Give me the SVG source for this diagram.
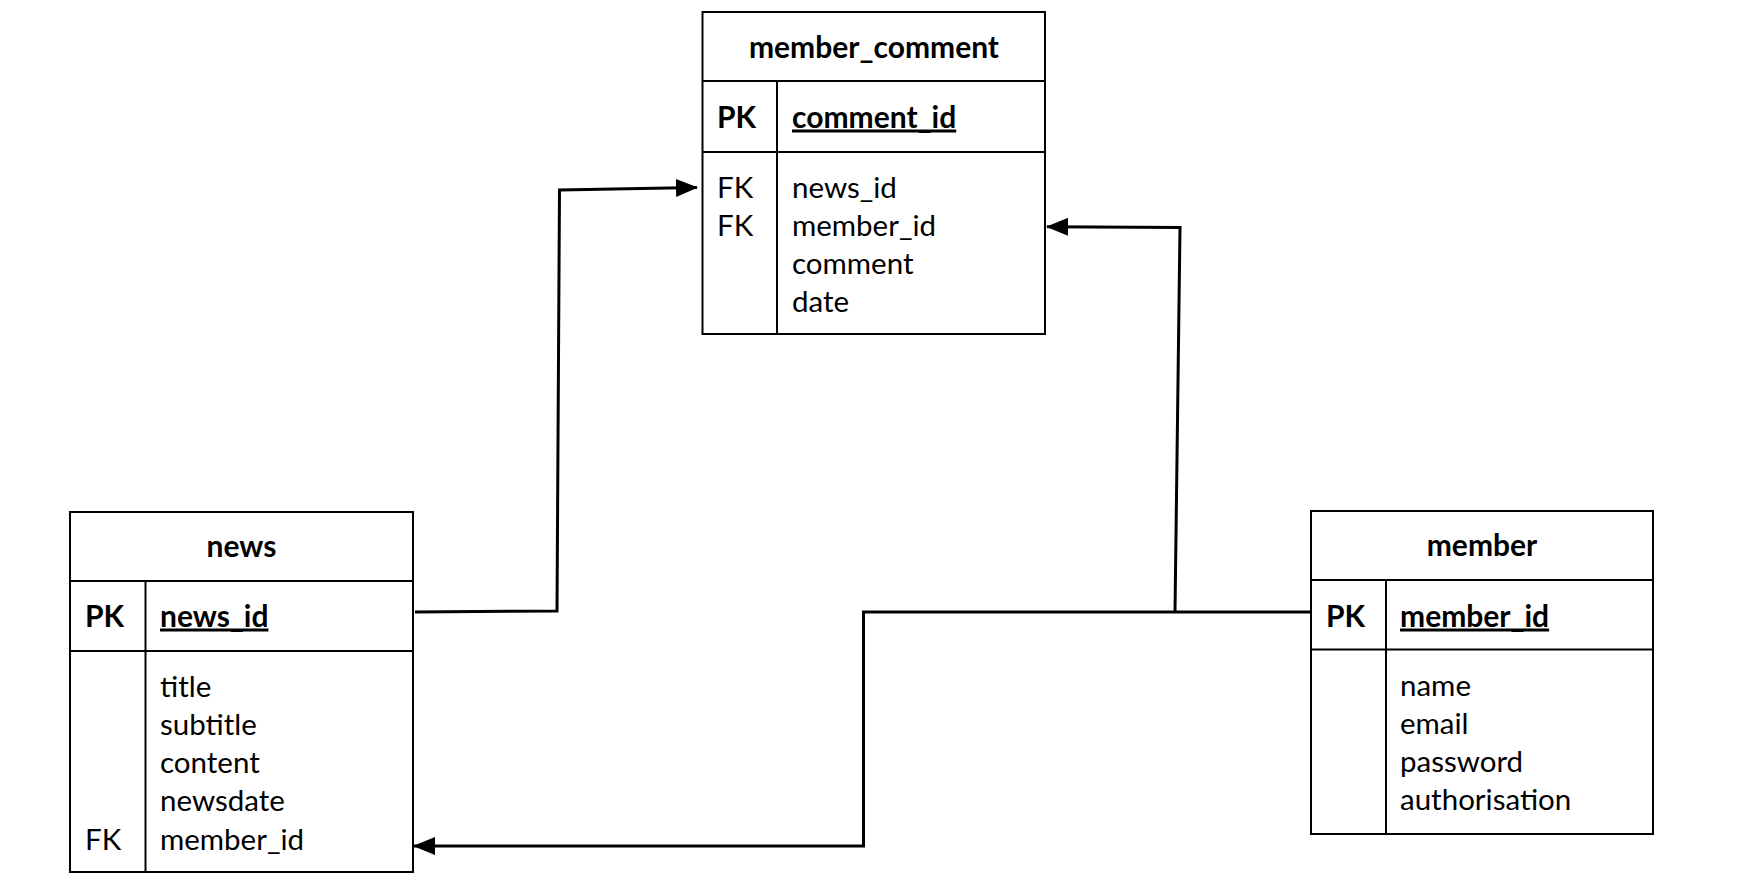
<svg xmlns="http://www.w3.org/2000/svg" width="1746" height="884" viewBox="0 0 1746 884">
<defs>
<style>
.box{fill:#fff;stroke:#000;stroke-width:2}
.ln{stroke:#000;stroke-width:2;fill:none}
.t{font-family:Lato,"Liberation Sans",sans-serif;font-size:29.5px;fill:#000}
.b{font-weight:bold;font-size:30px}
.c{text-anchor:middle}
.u{text-decoration:underline}
.con{stroke:#000;stroke-width:3;fill:none}
</style>
<marker id="arr" viewBox="0 0 22 18" refX="21" refY="9" markerWidth="22" markerHeight="18" markerUnits="userSpaceOnUse" orient="auto">
<path d="M0,0 L22,9 L0,18 Z" fill="#000"/>
</marker>
</defs>
<rect width="1746" height="884" fill="#fff"/>

<g id="member_comment">
<rect class="box" x="702.5" y="12" width="342.5" height="322"/>
<line class="ln" x1="702.5" y1="81" x2="1045" y2="81"/>
<line class="ln" x1="702.5" y1="152" x2="1045" y2="152"/>
<line class="ln" x1="777" y1="81" x2="777" y2="334"/>
<text class="t b c" x="874" y="58">member_comment</text>
<text class="t b" x="717" y="127.5">PK</text>
<text class="t b u" x="792" y="127.5">comment_id</text>
<text class="t" x="717" y="198">FK</text>
<text class="t" x="717" y="236">FK</text>
<text class="t" x="792" y="198">news_id</text>
<text class="t" x="792" y="236">member_id</text>
<text class="t" x="792" y="274">comment</text>
<text class="t" x="792" y="312">date</text>
</g>

<g id="news">
<rect class="box" x="70" y="512" width="343" height="360"/>
<line class="ln" x1="70" y1="581" x2="413" y2="581"/>
<line class="ln" x1="70" y1="651" x2="413" y2="651"/>
<line class="ln" x1="145.5" y1="581" x2="145.5" y2="872"/>
<text class="t b c" x="241.5" y="557">news</text>
<text class="t b" x="85" y="626.5">PK</text>
<text class="t b u" x="160" y="626.5">news_id</text>
<text class="t" x="160" y="697">title</text>
<text class="t" x="160" y="735">subtitle</text>
<text class="t" x="160" y="773">content</text>
<text class="t" x="160" y="811">newsdate</text>
<text class="t" x="85" y="849.5">FK</text>
<text class="t" x="160" y="849.5">member_id</text>
</g>

<g id="member">
<rect class="box" x="1311" y="511" width="342" height="323"/>
<line class="ln" x1="1311" y1="580" x2="1653" y2="580"/>
<line class="ln" x1="1311" y1="649.5" x2="1653" y2="649.5"/>
<line class="ln" x1="1386" y1="580" x2="1386" y2="834"/>
<text class="t b c" x="1482" y="556">member</text>
<text class="t b" x="1326" y="626.5">PK</text>
<text class="t b u" x="1400" y="626.5">member_id</text>
<text class="t" x="1400" y="696">name</text>
<text class="t" x="1400" y="734">email</text>
<text class="t" x="1400" y="772">password</text>
<text class="t" x="1400" y="810">authorisation</text>
</g>

<g id="connectors">
<polyline class="con" points="415,612 557,611 559.5,190 697,187.5" marker-end="url(#arr)"/>
<polyline class="con" points="1311,612 863.5,612 863.5,846 414,846" marker-end="url(#arr)"/>
<polyline class="con" points="1175,612 1180,227.5 1047,226.7" marker-end="url(#arr)"/>
</g>
</svg>
